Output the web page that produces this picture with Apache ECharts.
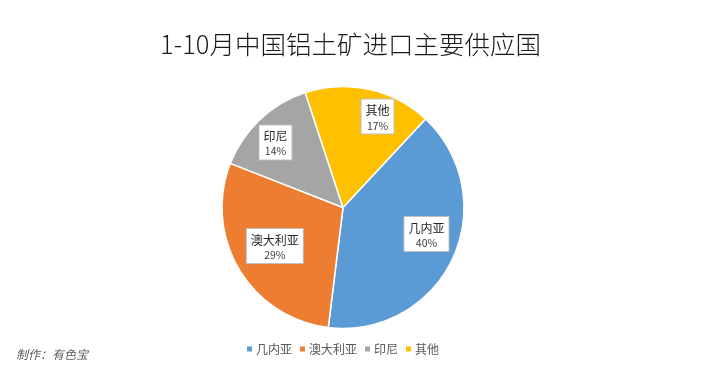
<!DOCTYPE html>
<html><head><meta charset="utf-8">
<script src="https://cdn.jsdelivr.net/npm/echarts@6/dist/echarts.min.js"></script>
<style>html,body{margin:0;padding:0;background:#fff}#c{width:703px;height:365px}</style>
</head><body><div id="c"></div>
<script>
var categories = ['几内亚', '澳大利亚', '印尼', '其他'];
var shares = [40, 29, 14, 17];
var colors = ['#5B9BD5', '#ED7D31', '#A5A5A5', '#FFC000'];
var labelOffsets = [[1, -12], [10, -8], [-5, 1], [15, -2]];
var titleText = '1-10月中国铝土矿进口主要供应国';
var creditText = '制作：有色宝';

var data = categories.map(function (n, i) { return { name: n, value: shares[i] }; });
var labelData = categories.map(function (n, i) {
  return { name: n, value: shares[i], label: { offset: labelOffsets[i] } };
});
var font = '"Noto Sans CJK SC", "Noto Sans", sans-serif';
var chart = echarts.init(document.getElementById('c'), null, { renderer: 'canvas' });
chart.setOption({
  animation: false,
  color: colors,
  title: [{
    text: titleText, left: 155, top: 27,
    textStyle: { fontFamily: font, fontSize: 25.5, fontWeight: 300, color: '#1a1a1a' }
  }, {
    text: creditText, left: 11, top: 343,
    textStyle: { fontFamily: font, fontSize: 12, fontStyle: 'italic', fontWeight: 'normal', color: '#595959' }
  }],
  legend: {
    data: categories, bottom: 5, left: 240,
    icon: 'rect', itemWidth: 7, itemHeight: 7, itemGap: 6,
    textStyle: { fontFamily: font, fontSize: 12, color: '#595959', padding: [0, 0, 0, -2] }
  },
  series: [{
    type: 'pie', center: [343, 207.5], radius: [0, 121],
    startAngle: 47, clockwise: true, silent: true,
    itemStyle: { borderColor: '#fff', borderWidth: 1.5 },
    label: { show: false }, labelLine: { show: false },
    data: data
  }, {
    type: 'pie', center: [343, 207.5], radius: [56, 120],
    startAngle: 47, clockwise: true, silent: true,
    itemStyle: { color: 'rgba(0,0,0,0)', borderWidth: 0 },
    label: {
      show: true, position: 'inside',
      formatter: '{n|{b}}\n{p|{d}%}',
      backgroundColor: '#fff', borderColor: '#bfbfbf', borderWidth: 1,
      padding: [3, 4, 1, 4],
      rich: {
        n: { fontFamily: font, fontSize: 12, color: '#262626', lineHeight: 16, align: 'center' },
        p: { fontFamily: font, fontSize: 10.5, color: '#404040', lineHeight: 14, align: 'center' }
      }
    },
    labelLine: { show: false },
    data: labelData
  }]
});
</script></body></html>
